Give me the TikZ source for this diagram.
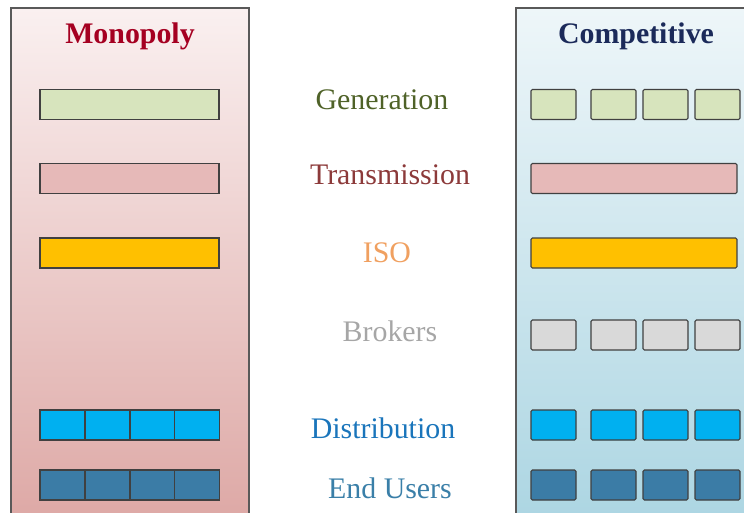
\documentclass[tikz,border=0pt]{standalone}
\usepackage{fontspec}
\setmainfont{Liberation Serif}
\usetikzlibrary{positioning}
\usepackage{xcolor}

\definecolor{monotop}{HTML}{FAF0F0}
\definecolor{monobot}{HTML}{DDA7A4}
\definecolor{comptop}{HTML}{EEF6F9}
\definecolor{compbot}{HTML}{ABD5E2}
\definecolor{genfill}{HTML}{D7E4BD}
\definecolor{transfill}{HTML}{E6B9B8}
\definecolor{isofill}{HTML}{FFC000}
\definecolor{brokfill}{HTML}{D9D9D9}
\definecolor{distfill}{HTML}{00B0F0}
\definecolor{userfill}{HTML}{3B7CA6}
\definecolor{monored}{HTML}{A50021}
\definecolor{compblue}{HTML}{1B2A5A}
\definecolor{gentext}{HTML}{4F6228}
\definecolor{transtext}{HTML}{8C3A3A}
\definecolor{isotext}{HTML}{F0A060}
\definecolor{broktext}{HTML}{A6A6A6}
\definecolor{disttext}{HTML}{1A75BB}
\definecolor{usertext}{HTML}{3A7FA8}

\begin{document}
\begin{tikzpicture}[x=0.02cm,y=-0.02cm,
	cell/.style={draw=black!75, line width=0.6pt, minimum width=0.9cm, minimum height=0.6cm, inner sep=0pt},
	bar/.style={cell, minimum width=3.58cm},
	longbar/.style={cell, minimum width=4.12cm, rounded corners=0.8pt},
	lbl/.style={font=\fontsize{17}{20}\selectfont},
	ttl/.style={font=\fontsize{17}{20}\selectfont\bfseries}]
	\useasboundingbox (0,0) rectangle (744,512);

	% panels, cut off at the lower and right edge
	\begin{scope}
		\clip (0,0) rectangle (744,512);
		\draw[black!65, line width=0.8pt, top color=monotop, bottom color=monobot] (11,8) rectangle (249,530);
		\draw[black!65, line width=0.8pt, top color=comptop, bottom color=compbot] (516,8) rectangle (770,530);
	\end{scope}

	\draw (130,36) node[ttl, text=monored] (mono) {Monopoly}
		(636,36) node[ttl, text=compblue] (comp) {Competitive};

	% monopoly side
	\draw (129.5,104.5) node[bar, fill=genfill] (mgen) {}
		(129.5,178.5) node[bar, fill=transfill] (mtrans) {}
		(129.5,253) node[bar, fill=isofill] (miso) {};
	\foreach \i/\x in {1/62.5,2/107.5,3/152.5,4/197}{
		\node[cell, fill=distfill] (mdist\i) at (\x,425) {};
		\node[cell, fill=userfill] (muser\i) at (\x,485) {};
	}

	% competitive side
	\draw (634,178.5) node[longbar, fill=transfill] (ctrans) {}
		(634,253) node[longbar, fill=isofill] (ciso) {};
	\foreach \row/\y/\f in {gen/104.5/genfill, brok/335/brokfill, dist/425/distfill, user/485/userfill}
		\foreach \i/\x in {1/553.5,2/613.5,3/665.5,4/717.5}
			\node[cell, rounded corners=0.8pt, fill=\f] (c\row\i) at (\x,\y) {};

	% segment names
	\draw (382,100) node[lbl, text=gentext] (tgen) {Generation}
		(390,175) node[lbl, text=transtext] (ttrans) {Transmission}
		(387,253) node[lbl, text=isotext] (tiso) {ISO}
		(390,331) node[lbl, text=broktext] (tbrok) {Brokers}
		(383,428) node[lbl, text=disttext] (tdist) {Distribution}
		(390,488) node[lbl, text=usertext] (tuser) {End Users};
\end{tikzpicture}
\end{document}
